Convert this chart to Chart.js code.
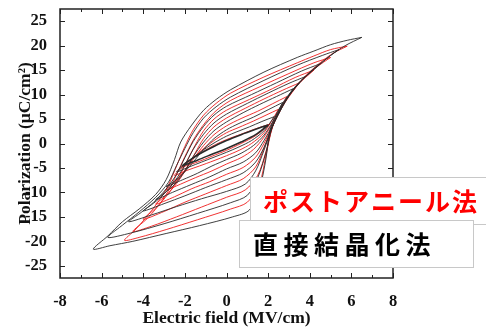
<!DOCTYPE html>
<html>
<head>
<meta charset="utf-8">
<script src="https://cdn.jsdelivr.net/npm/chart.js@4.4.1/dist/chart.umd.min.js"></script>
<style>
  html, body { margin: 0; padding: 0; background: #fff; }
  #c { display: block; }
</style>
</head>
<body>
<canvas id="c" width="486" height="331"></canvas>
<script>
// P-E hysteresis loops (E in MV/cm, P in uC/cm2)
const X_TICKS = [-8, -6, -4, -2, 0, 2, 4, 6, 8];
const X_MINOR = [-8, -7, -6, -5, -4, -3, -2, -1, 0, 1, 2, 3, 4, 5, 6, 7, 8];
const Y_TICKS = [-25, -20, -15, -10, -5, 0, 5, 10, 15, 20, 25];

// direct crystallisation (black), each loop: +tip -> upper branch -> -tip -> lower branch -> +tip
const direct65 = [[6.5,21.7],[5.8,21.1],[5.0,20.2],[4.2,18.9],[3.4,17.6],[1.8,14.6],[0.2,11.0],[-0.5,9.0],[-1.1,6.8],[-1.7,3.6],[-2.2,0.3],[-2.5,-3.3],[-2.9,-7.4],[-3.4,-10.4],[-4.2,-13.4],[-5.0,-16.0],[-5.7,-18.9],[-6.4,-21.6],
  [-5.6,-20.9],[-4.5,-20.0],[-2.9,-18.4],[-1.3,-16.8],[0.3,-15.0],[1.1,-13.6],[1.6,-9.0],[1.9,-3.0],[2.1,2.9],[2.6,7.6],[3.4,12.1],[4.2,15.2],[5.0,18.0],[5.7,20.0],[6.5,21.7]];
const direct54 = [[5.4,19.2],[4.6,18.0],[3.4,16.0],[1.8,12.9],[0.2,9.5],[-0.5,7.5],[-1.1,5.2],[-1.6,2.2],[-2.0,-1.0],[-2.4,-4.5],[-2.8,-8.0],[-3.4,-11.0],[-4.2,-14.0],[-5.0,-16.7],[-5.7,-19.2],
  [-4.6,-18.3],[-3.0,-16.4],[-1.4,-14.3],[0.2,-12.1],[1.0,-10.6],[1.5,-7.0],[1.9,-1.8],[2.2,3.4],[2.7,7.9],[3.5,12.4],[4.3,15.5],[5.0,18.0],[5.4,19.2]];
const direct45 = [[4.5,16.3],[3.6,14.8],[2.4,12.4],[1.2,10.0],[0.0,7.6],[-0.6,5.8],[-1.1,3.5],[-1.6,0.4],[-2.0,-2.9],[-2.4,-6.3],[-2.9,-9.3],[-3.5,-12.0],[-4.1,-14.1],[-4.7,-16.0],
  [-3.6,-14.6],[-2.4,-12.9],[-1.2,-11.3],[0.0,-9.8],[0.9,-8.3],[1.4,-5.6],[1.8,-1.4],[2.2,3.4],[2.7,7.9],[3.4,11.9],[4.0,14.6],[4.5,16.3]];
const direct38 = [[3.8,13.7],[3.0,12.3],[2.0,10.3],[1.0,8.2],[0.0,6.0],[-0.6,4.2],[-1.1,1.9],[-1.6,-1.2],[-2.0,-4.4],[-2.5,-7.8],[-3.0,-10.3],[-3.5,-12.2],[-4.0,-13.8],
  [-3.0,-12.3],[-2.0,-10.7],[-1.0,-9.0],[0.0,-7.4],[0.8,-6.0],[1.4,-3.8],[1.8,-0.8],[2.2,3.4],[2.7,7.6],[3.2,11.0],[3.8,13.7]];
const direct32 = [[3.2,11.2],[2.4,9.6],[1.6,8.0],[0.8,6.3],[0.0,4.4],[-0.6,2.6],[-1.1,0.3],[-1.6,-2.7],[-2.0,-5.6],[-2.5,-8.4],[-3.0,-10.2],[-3.4,-11.5],
  [-2.6,-10.0],[-1.7,-8.4],[-0.8,-6.8],[0.0,-5.2],[0.8,-3.8],[1.4,-1.9],[1.8,0.6],[2.2,3.6],[2.7,7.7],[3.2,11.2]];
const direct27 = [[2.7,8.4],[2.0,6.9],[1.3,5.4],[0.6,4.1],[0.0,2.8],[-0.6,1.0],[-1.1,-1.2],[-1.6,-3.8],[-2.1,-6.2],[-2.5,-7.7],[-2.9,-8.8],
  [-2.1,-7.4],[-1.4,-6.1],[-0.7,-4.6],[0.0,-3.3],[0.7,-2.0],[1.3,-0.4],[1.8,1.7],[2.2,4.3],[2.7,8.4]];
const direct23 = [[2.3,5.5],[1.7,4.5],[1.1,3.4],[0.5,2.4],[0.0,1.5],[-0.6,0.1],[-1.2,-1.6],[-1.8,-3.6],[-2.4,-5.8],
  [-1.8,-4.8],[-1.2,-3.8],[-0.6,-2.8],[0.0,-1.8],[0.6,-0.7],[1.2,0.6],[1.8,2.6],[2.3,5.5]];
const direct20 = [[2.0,3.8],[1.4,2.9],[0.7,1.8],[0.0,0.6],[-0.7,-0.8],[-1.4,-2.4],[-2.1,-4.5],
  [-1.4,-3.4],[-0.7,-2.2],[0.0,-1.0],[0.7,0.3],[1.4,1.8],[2.0,3.8]];

// post-anneal (red)
const anneal58 = [[5.8,19.9],[5.0,19.2],[4.2,17.9],[3.4,16.5],[1.8,13.6],[0.2,10.3],[-0.5,8.2],[-1.1,5.8],[-1.6,2.8],[-2.0,-0.6],[-2.4,-4.6],[-2.8,-8.6],[-3.3,-12.0],[-3.9,-15.3],[-4.4,-17.7],[-4.9,-19.8],
  [-4.2,-19.2],[-2.9,-17.6],[-1.4,-15.6],[0.2,-13.4],[1.0,-12.0],[1.6,-8.0],[1.9,-2.4],[2.2,3.2],[2.7,8.0],[3.5,12.5],[4.3,15.8],[5.1,18.4],[5.8,19.9]];
const anneal50 = [[5.0,17.6],[4.2,16.5],[3.0,14.3],[1.6,11.6],[0.2,8.8],[-0.5,6.7],[-1.0,4.4],[-1.5,1.4],[-1.9,-1.8],[-2.3,-5.4],[-2.7,-9.0],[-3.2,-12.3],[-3.8,-15.3],[-4.5,-18.0],
  [-3.6,-16.9],[-2.4,-15.0],[-1.2,-13.0],[0.0,-11.0],[0.9,-9.5],[1.5,-6.5],[1.9,-1.6],[2.2,3.3],[2.7,7.9],[3.5,12.4],[4.3,15.5],[5.0,17.6]];
const anneal42 = [[4.2,15.0],[3.3,13.5],[2.2,11.2],[1.1,9.0],[0.0,6.8],[-0.6,5.0],[-1.1,2.6],[-1.5,-0.3],[-1.9,-3.6],[-2.3,-7.0],[-2.8,-10.3],[-3.4,-13.2],[-4.0,-15.5],
  [-3.0,-13.9],[-2.0,-12.0],[-1.0,-10.3],[0.0,-8.6],[0.8,-7.2],[1.4,-4.8],[1.8,-1.0],[2.2,3.4],[2.7,7.8],[3.4,11.9],[4.2,15.0]];
const anneal35 = [[3.5,12.4],[2.7,10.9],[1.8,9.1],[0.9,7.2],[0.0,5.2],[-0.6,3.4],[-1.1,1.0],[-1.5,-1.9],[-1.9,-5.0],[-2.4,-8.2],[-2.9,-10.6],[-3.4,-12.4],
  [-2.5,-10.9],[-1.7,-9.3],[-0.8,-7.8],[0.0,-6.3],[0.8,-4.9],[1.4,-2.8],[1.8,0.0],[2.2,3.5],[2.8,8.3],[3.5,12.4]];
const anneal29 = [[2.9,9.6],[2.2,8.1],[1.5,6.6],[0.7,5.1],[0.0,3.6],[-0.6,1.8],[-1.1,-0.4],[-1.6,-3.2],[-2.1,-6.0],[-2.5,-8.0],[-2.9,-9.5],
  [-2.2,-8.3],[-1.5,-7.0],[-0.7,-5.6],[0.0,-4.2],[0.7,-2.9],[1.3,-1.2],[1.8,1.3],[2.3,4.8],[2.9,9.6]];
const anneal25 = [[2.5,7.0],[1.9,5.8],[1.3,4.6],[0.6,3.3],[0.0,2.2],[-0.6,0.6],[-1.2,-1.4],[-1.8,-3.7],[-2.5,-6.5],
  [-1.9,-5.5],[-1.3,-4.6],[-0.6,-3.5],[0.0,-2.5],[0.6,-1.4],[1.2,0.0],[1.8,2.2],[2.5,7.0]];
const anneal21 = [[2.1,4.0],[1.4,3.0],[0.7,1.9],[0.0,0.8],[-0.7,-0.6],[-1.4,-2.4],[-2.2,-4.8],
  [-1.4,-3.8],[-0.7,-2.6],[0.0,-1.4],[0.7,0.0],[1.4,1.6],[2.1,4.0]];

const DIRECT = [direct65, direct54, direct45, direct38, direct32, direct27, direct23, direct20];
const ANNEAL = [anneal58, anneal50, anneal42, anneal35, anneal29, anneal25, anneal21];
const LABEL_ANNEAL = "ポストアニール法";
const LABEL_DIRECT = "直接結晶化法";

const SERIF = "'Liberation Serif', 'Times New Roman', serif";
const CJK = "'Noto Sans CJK JP', 'Noto Sans', sans-serif";

const toPts = (loop) => loop.map(p => ({ x: p[0], y: p[1] }));
const datasets = [];
DIRECT.forEach((l, i) => datasets.push({ data: toPts(l), borderColor: "#2a2a2a",
  borderWidth: i === DIRECT.length - 1 ? 1.6 : 0.9 }));
ANNEAL.forEach(l => datasets.push({ data: toPts(l), borderColor: "#ee1c1c", borderWidth: 0.9 }));
datasets.forEach(d => Object.assign(d, { showLine: true, pointRadius: 0, tension: 0.3, fill: false }));

// frame with inward ticks on all four sides
const frame = {
  id: "frame",
  afterDatasetsDraw(c) {
    const { ctx, chartArea: a, scales: { x, y } } = c;
    ctx.save();
    ctx.strokeStyle = "#222";
    ctx.lineWidth = 1;
    ctx.beginPath();
    X_MINOR.forEach(v => {
      const px = Math.round(x.getPixelForValue(v)) + 0.5;
      const len = X_TICKS.includes(v) ? 5 : 3;
      ctx.moveTo(px, a.bottom); ctx.lineTo(px, a.bottom - len);
      ctx.moveTo(px, a.top); ctx.lineTo(px, a.top + len);
    });
    Y_TICKS.forEach(v => {
      const py = Math.round(y.getPixelForValue(v)) + 0.5;
      ctx.moveTo(a.left, py); ctx.lineTo(a.left + 5, py);
      ctx.moveTo(a.right, py); ctx.lineTo(a.right - 5, py);
    });
    ctx.stroke();
    ctx.lineWidth = 1.5;
    ctx.strokeRect(a.left, a.top, a.right - a.left, a.bottom - a.top);
    ctx.restore();
  }
};

function spaced(ctx, s, x, y, sp) {
  for (const ch of s) { ctx.fillText(ch, x, y); x += ctx.measureText(ch).width + sp; }
}

// the two label boxes over the lower right corner
const boxes = {
  id: "boxes",
  afterDraw(c) {
    const ctx = c.ctx;
    ctx.save();
    ctx.strokeStyle = "#c8c8c8";
    ctx.lineWidth = 1;
    ctx.fillStyle = "#fff";
    ctx.fillRect(250.5, 177.5, 250, 47); ctx.strokeRect(250.5, 177.5, 250, 47);
    ctx.textBaseline = "middle";
    ctx.font = "bold 25px " + CJK;
    ctx.fillStyle = "#ff0000";
    spaced(ctx, LABEL_ANNEAL, 263, 201, 2);
    ctx.fillStyle = "#fff";
    ctx.fillRect(239.5, 220.5, 234, 47); ctx.strokeRect(239.5, 220.5, 234, 47);
    ctx.font = "bold 25px " + CJK;
    ctx.fillStyle = "#000";
    spaced(ctx, LABEL_DIRECT, 253, 244, 5.5);
    ctx.restore();
  }
};

new Chart(document.getElementById("c"), {
  type: "scatter",
  data: { datasets },
  options: {
    responsive: false,
    animation: false,
    layout: { padding: { top: 9, right: 93, left: 0, bottom: 0 } },
    plugins: { legend: { display: false }, tooltip: { enabled: false } },
    scales: {
      x: {
        type: "linear", min: -8, max: 8,
        afterBuildTicks: s => { s.ticks = X_TICKS.map(v => ({ value: v })); },
        afterFit: s => { s.height = 53; s.paddingLeft = 0; s.paddingRight = 0; },
        grid: { display: false }, border: { display: false },
        ticks: { color: "#111", padding: 6, font: { family: SERIF, size: 16.5, weight: "bold" } },
        title: { display: true, text: "Electric field (MV/cm)", color: "#111", padding: { top: 0, bottom: 2 },
          font: { family: SERIF, size: 17.5, weight: "bold" } }
      },
      y: {
        type: "linear", min: -27.5, max: 27.5,
        afterBuildTicks: s => { s.ticks = Y_TICKS.map(v => ({ value: v })); },
        afterFit: s => { s.width = 60; s.paddingTop = 0; s.paddingBottom = 0; },
        grid: { display: false }, border: { display: false },
        ticks: { color: "#111", padding: 5, font: { family: SERIF, size: 16.5, weight: "bold" } },
        title: { display: true, text: "Polarization (μC/cm²)", color: "#111", padding: { top: 15, bottom: 0 },
          font: { family: SERIF, size: 17.5, weight: "bold" } }
      }
    }
  },
  plugins: [frame, boxes]
});
</script>
</body>
</html>
